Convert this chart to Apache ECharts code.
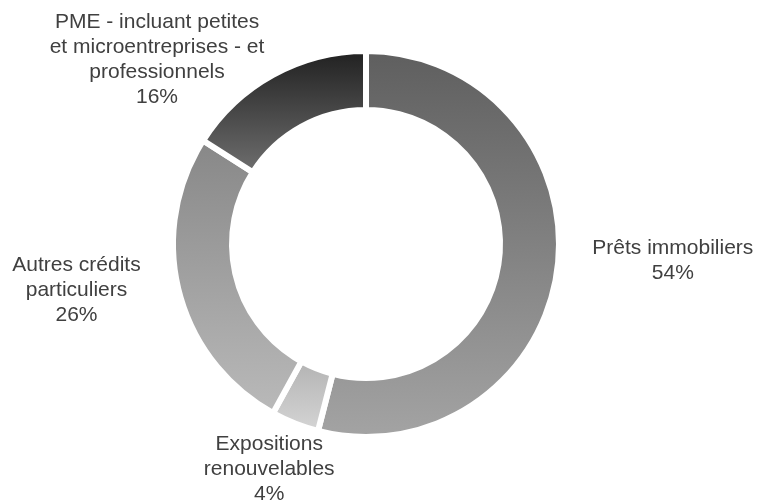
<!DOCTYPE html>
<html>
<head>
<meta charset="utf-8">
<script src="https://cdn.jsdelivr.net/npm/echarts@6/dist/echarts.min.js"></script>
<style>
  html, body { margin: 0; padding: 0; background: #ffffff; }
  #chart { width: 759px; height: 500px; }
</style>
</head>
<body>
<div id="chart"></div>
<script>
// Répartition des expositions (en %)
const categories = [
  'Prêts immobiliers',
  'Expositions\nrenouvelables',
  'Autres crédits\nparticuliers',
  'PME - incluant petites\net microentreprises - et\nprofessionnels'
];
const values = [54, 4, 26, 16];
// Dégradé vertical de chaque secteur : [haut, bas]
const shades = [
  ['#5e5e5e', '#a4a4a4'],
  ['#b2b2b2', '#d6d6d6'],
  ['#878787', '#bababa'],
  ['#1f1f1f', '#707070']
];
// Petits décalages des étiquettes par rapport au placement automatique
const labelNudge = [[-2, -10], [64, 27], [-2, -7], [18, 2]];

const chart = echarts.init(document.getElementById('chart'), null, { renderer: 'canvas' });

const data = categories.map((name, i) => ({
  name: name,
  value: values[i],
  itemStyle: {
    color: new echarts.graphic.LinearGradient(0, 0, 0, 1, [
      { offset: 0, color: shades[i][0] },
      { offset: 1, color: shades[i][1] }
    ])
  }
}));

chart.setOption({
  backgroundColor: '#ffffff',
  animation: false,
  series: [{
    type: 'pie',
    center: [366, 244],
    radius: [134, 193],
    startAngle: 90,
    clockwise: true,
    avoidLabelOverlap: false,
    data: data,
    itemStyle: { borderColor: '#ffffff', borderWidth: 6 },
    label: {
      show: true,
      position: 'outside',
      overflow: 'none',
      formatter: p => p.name + '\n' + p.value + '%',
      fontFamily: '"Liberation Sans", Arial, sans-serif',
      fontSize: 21,
      lineHeight: 25,
      color: '#404040'
    },
    labelLine: { show: false, length: 20, length2: 12 },
    labelLayout: function (params) {
      const r = params.labelRect;
      const n = labelNudge[params.dataIndex] || [0, 0];
      return {
        x: r.x + r.width / 2 + n[0],
        y: r.y + r.height / 2 + n[1],
        align: 'center',
        verticalAlign: 'middle'
      };
    },
    emphasis: { disabled: true }
  }]
});
</script>
</body>
</html>
